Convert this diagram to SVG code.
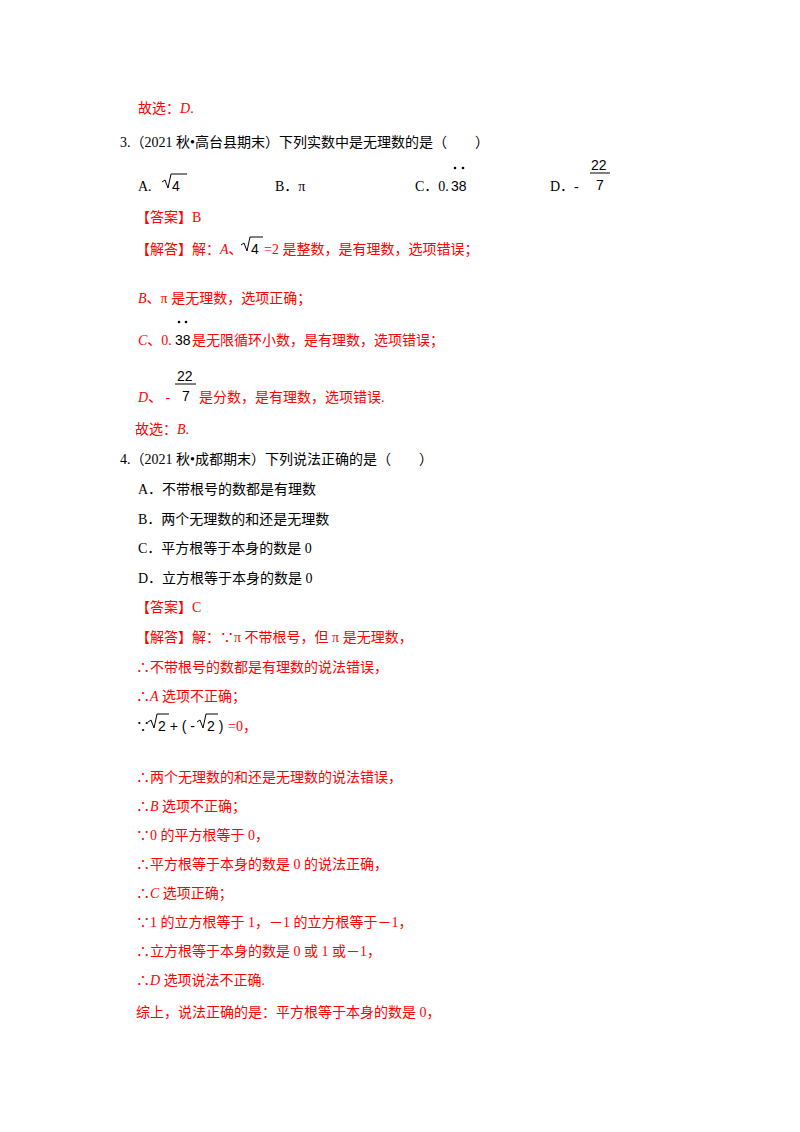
<svg xmlns="http://www.w3.org/2000/svg" width="800" height="1132" viewBox="0 0 800 1132">
<style>
text{font-family:"Liberation Serif","Noto Sans CJK SC",serif;font-size:14px;fill:#000}
.r{fill:#f00}
.s{font-family:"Liberation Sans","Noto Sans CJK SC",sans-serif}
.ln{stroke:#000;stroke-width:1;fill:none}
</style>
<rect width="800" height="1132" fill="#fff"/>
<text class="r" x="138" y="113">故选：<tspan font-style="italic">D</tspan>.</text>
<text x="120" y="147">3.（2021 秋•高台县期末）下列实数中是无理数的是（　　）</text>
<text x="138" y="191">A.</text>
<path class="ln" d="M162 182 l3 -2 l3 8 l3 -14 h16"/>
<text class="s" x="172" y="191">4</text>
<text x="275" y="191">B．π</text>
<text x="415" y="191">C．0.</text>
<text class="s" x="451" y="191">38</text>
<circle cx="455" cy="168" r="1.3"/><circle cx="463" cy="168" r="1.3"/>
<text x="550" y="191">D．-</text>
<text class="s" x="591" y="170">22</text>
<line class="ln" x1="590" y1="173" x2="610" y2="173"/>
<text class="s" x="596" y="190">7</text>
<text class="r" x="136" y="222">【答案】B</text>
<text class="r" x="136" y="254">【解答】解：<tspan font-style="italic">A</tspan>、</text>
<path class="ln" d="M241 245 l3 -2 l3 8 l3 -14 h13"/>
<text class="s" x="251" y="254">4</text>
<text class="r" x="264" y="254">=2 是整数，是有理数，选项错误；</text>
<text class="r" x="138" y="303"><tspan font-style="italic">B</tspan>、π 是无理数，选项正确；</text>
<text class="r" x="138" y="345"><tspan font-style="italic">C</tspan>、0.</text>
<text class="s" x="175" y="345">38</text>
<circle cx="179" cy="322" r="1.3"/><circle cx="186" cy="322" r="1.3"/>
<text class="r" x="192" y="345">是无限循环小数，是有理数，选项错误；</text>
<text class="r" x="138" y="402"><tspan font-style="italic">D</tspan>、 -</text>
<text class="s" x="177" y="381">22</text>
<line class="ln" x1="175" y1="384" x2="196" y2="384"/>
<text class="s" x="182" y="401">7</text>
<text class="r" x="199" y="402">是分数，是有理数，选项错误.</text>
<text class="r" x="135" y="434">故选：<tspan font-style="italic">B</tspan>.</text>
<text x="120" y="464">4.（2021 秋•成都期末）下列说法正确的是（　　）</text>
<text x="138" y="494">A．不带根号的数都是有理数</text>
<text x="138" y="524">B．两个无理数的和还是无理数</text>
<text x="138" y="553">C．平方根等于本身的数是 0</text>
<text x="138" y="583">D．立方根等于本身的数是 0</text>
<text class="r" x="136" y="612">【答案】C</text>
<text class="r" x="136" y="642">【解答】解：∵π 不带根号，但 π 是无理数，</text>
<text class="r" x="136" y="672">∴不带根号的数都是有理数的说法错误，</text>
<text class="r" x="136" y="701">∴<tspan font-style="italic">A</tspan> 选项不正确；</text>
<text x="136" y="731">∵</text>
<path class="ln" d="M148 722 l3 -2 l3 8 l3 -14 h12"/>
<text class="s" x="158" y="731">2 + ( -</text>
<path class="ln" d="M197 722 l3 -2 l3 8 l3 -14 h12"/>
<text class="s" x="207" y="731">2 )</text>
<text class="r" x="228" y="731">=0，</text>
<text class="r" x="136" y="782">∴两个无理数的和还是无理数的说法错误，</text>
<text class="r" x="136" y="811">∴<tspan font-style="italic">B</tspan> 选项不正确；</text>
<text class="r" x="136" y="840">∵0 的平方根等于 0，</text>
<text class="r" x="136" y="869">∴平方根等于本身的数是 0 的说法正确，</text>
<text class="r" x="136" y="898">∴<tspan font-style="italic">C</tspan> 选项正确；</text>
<text class="r" x="136" y="927">∵1 的立方根等于 1，－1 的立方根等于－1，</text>
<text class="r" x="136" y="956">∴立方根等于本身的数是 0 或 1 或－1，</text>
<text class="r" x="136" y="985">∴<tspan font-style="italic">D</tspan> 选项说法不正确.</text>
<text class="r" x="136" y="1017">综上，说法正确的是：平方根等于本身的数是 0，</text>
</svg>
